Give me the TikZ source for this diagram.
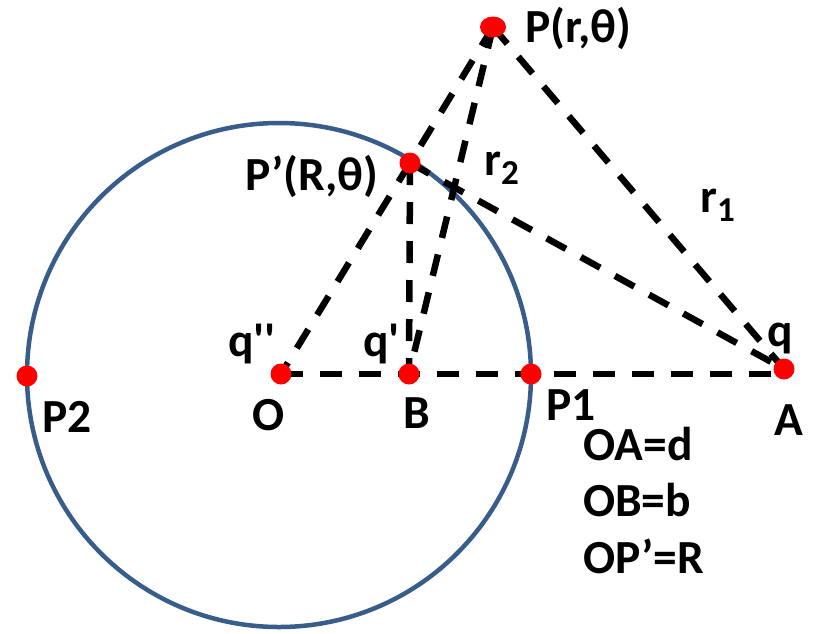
\documentclass[tikz,border=0pt]{standalone}
\usepackage{fontspec}
\setmainfont{Carlito}
\begin{document}
\begin{tikzpicture}
% image charge for a grounded sphere, drawn in pixel units
\definecolor{sphereBlue}{RGB}{56,93,138}
\providecommand{\imgLineWidth}{6.5pt}
\providecommand{\imgDotRadius}{10.5pt}
\tikzset{
  lbl/.style={inner sep=0pt, font=\fontsize{47.5}{50}\selectfont\bfseries},
  guide/.style={draw=black, line width=\imgLineWidth, dash pattern=on 22pt off 17pt},
  chargedot/.style={fill=red, draw=none},
}
\begin{scope}[x=1pt, y=-1pt, line cap=butt, line join=round]
  \useasboundingbox (0,0) rectangle (817,633);
  % Points
  \coordinate (C) at (279,375);
  \coordinate (O) at (281,374);
  \coordinate (B) at (409,374);
  \coordinate (A) at (784,369);
  \coordinate (P) at (493,27);
  \coordinate (Pp) at (410,163);
  \coordinate (P1) at (531,374);
  \coordinate (P2) at (27,376);
  % Sphere
  \draw[sphereBlue, line width=4.5pt] (C) circle[radius=252];
  % Dashed construction lines
  \draw[guide] (O) -- (O -| A);
  \draw[guide] (Pp) -- (O);
  \draw[guide] (Pp) -- (B);
  \draw[guide] (Pp) -- (A);
  \draw[guide] (P) -- (Pp);
  \draw[guide] (P) -- (B);
  \draw[guide] (P) -- (A);
  % Dots
  \begin{scope}[chargedot]
    \fill (P) ellipse[x radius=13, y radius=10.5];
    \fill (Pp) circle[radius=\imgDotRadius];
    \fill (O) circle[radius=\imgDotRadius];
    \fill (B) circle[radius=\imgDotRadius];
    \fill (A) circle[radius=\imgDotRadius];
    \fill (P1) circle[radius=\imgDotRadius];
    \fill (P2) circle[radius=\imgDotRadius];
  \end{scope}
  % Labels
  \node[lbl, anchor=base west] (lP) at (525,42) {P(r,θ)};
  \node[lbl, anchor=base west] (lPp) at (245,190) {P’(R,θ)};
  \node[lbl, anchor=base west] (lr2) at (484,175) {r\raisebox{-9pt}{\fontsize{35}{35}\selectfont 2}};
  \node[lbl, anchor=base west] (lr1) at (700,212) {r\raisebox{-9pt}{\fontsize{35}{35}\selectfont 1}};
  \node[lbl, anchor=base west] (lqpp) at (228,356) {q\textquotesingle\textquotesingle};
  \node[lbl, anchor=base west] (lqp) at (363,356) {q\textquotesingle};
  \node[lbl, anchor=base west] (lq) at (767,346) {q};
  \node[lbl, anchor=base] (lO) at (269,430) {O};
  \node[lbl, anchor=base] (lB) at (417,428) {B};
  \node[lbl, anchor=base] (lA) at (789,435) {A};
  \node[lbl, anchor=base] (lP2) at (67,432) {P2};
  \node[lbl, anchor=base west] (lP1) at (546,420) {P1};
  \node[lbl, anchor=base west] (lOA) at (583,460) {OA=d};
  \node[lbl, anchor=base west] (lOB) at (583,516) {OB=b};
  \node[lbl, anchor=base west] (lOP) at (583,573) {OP’=R};
\end{scope}
\end{tikzpicture}
\end{document}
